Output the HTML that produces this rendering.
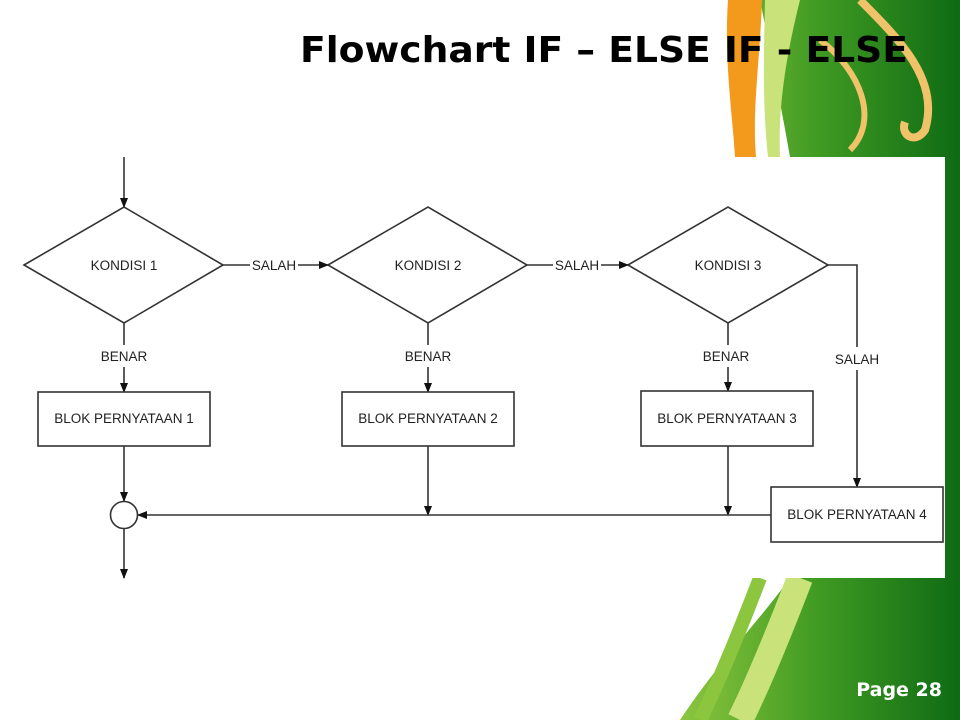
<!DOCTYPE html>
<html><head><meta charset="utf-8"><style>
html,body{margin:0;padding:0;background:#fff}
svg{display:block}
</style></head><body>
<svg width="960" height="720" viewBox="0 0 960 720" xmlns="http://www.w3.org/2000/svg">
<defs>
<linearGradient id="g" x1="0" y1="0" x2="1" y2="0">
<stop offset="0" stop-color="#8cc63f"/><stop offset="0.5" stop-color="#3f9a22"/><stop offset="1" stop-color="#0f6b14"/>
</linearGradient>
<marker id="a" markerWidth="10" markerHeight="10" refX="9" refY="5" orient="auto" markerUnits="userSpaceOnUse">
<path d="M0,1 L10,5 L0,9 Z" fill="#111"/></marker>
</defs>
<rect width="960" height="720" fill="#fff"/>
<path d="M760,0 L960,0 L960,720 L680,720 C720,660 760,620 790,578 L940,578 L945,157 L790,157 C780,100 770,50 760,0 Z" fill="url(#g)"/>
<path d="M728,0 L762,0 C760,60 752,110 756,157 L735,157 C732,110 724,60 728,0 Z" fill="#f39a1c"/>
<path d="M765,0 L800,0 C785,60 778,110 780,157 L768,157 C762,100 764,50 765,0 Z" fill="#c9e27a"/>
<path d="M860,0 C900,40 940,80 925,130 C915,145 900,135 905,122" fill="none" stroke="#f0c36a" stroke-width="8"/>
<path d="M820,40 C860,70 880,120 850,150" fill="none" stroke="#f0c36a" stroke-width="6"/>
<path d="M800,578 C780,630 760,680 740,720" fill="none" stroke="#c9e27a" stroke-width="26"/>
<path d="M760,578 C740,630 720,680 700,720" fill="none" stroke="#8cc63f" stroke-width="14"/>
<rect x="0" y="157" width="945" height="421" fill="#fff"/>
<text x="300" y="62" textLength="608" lengthAdjust="spacingAndGlyphs" font-family="DejaVu Sans, sans-serif" font-weight="bold" font-size="36" fill="#000">Flowchart IF – ELSE IF - ELSE</text>
<text x="942" y="696" text-anchor="end" font-family="DejaVu Sans, sans-serif" font-weight="bold" font-size="19" fill="#fff">Page 28</text>
<g stroke="#333" stroke-width="1.6" fill="none">
<line x1="124" y1="157" x2="124" y2="207" marker-end="url(#a)"/>
<polygon points="24,265 124,207 223,265 124,323" fill="#fff"/>
<polygon points="328,265 428,207 527,265 428,323" fill="#fff"/>
<polygon points="628,265 728,207 828,265 728,323" fill="#fff"/>
<line x1="223" y1="265" x2="250" y2="265"/>
<line x1="298" y1="265" x2="328" y2="265" marker-end="url(#a)"/>
<line x1="527" y1="265" x2="553" y2="265"/>
<line x1="601" y1="265" x2="628" y2="265" marker-end="url(#a)"/>
<polyline points="828,265 857,265 857,347"/>
<line x1="857" y1="370" x2="857" y2="487" marker-end="url(#a)"/>
<line x1="124" y1="323" x2="124" y2="345"/><line x1="124" y1="367" x2="124" y2="392" marker-end="url(#a)"/>
<line x1="428" y1="323" x2="428" y2="345"/><line x1="428" y1="367" x2="428" y2="392" marker-end="url(#a)"/>
<line x1="728" y1="323" x2="728" y2="345"/><line x1="728" y1="367" x2="728" y2="391" marker-end="url(#a)"/>
<rect x="38" y="392" width="172" height="54" fill="#fff"/>
<rect x="342" y="392" width="172" height="54" fill="#fff"/>
<rect x="641" y="391" width="172" height="55" fill="#fff"/>
<rect x="771" y="487" width="172" height="55" fill="#fff"/>
<line x1="124" y1="446" x2="124" y2="501" marker-end="url(#a)"/>
<line x1="428" y1="446" x2="428" y2="515" marker-end="url(#a)"/>
<line x1="728" y1="446" x2="728" y2="515" marker-end="url(#a)"/>
<line x1="771" y1="515" x2="138" y2="515" marker-end="url(#a)"/>
<circle cx="124" cy="515" r="13.5" fill="#fff"/>
<line x1="124" y1="529" x2="124" y2="578" marker-end="url(#a)"/>
</g>
<g font-family="Liberation Sans, sans-serif" font-size="13.5" fill="#222" text-anchor="middle">
<text x="124" y="270">KONDISI 1</text>
<text x="428" y="270">KONDISI 2</text>
<text x="728" y="270">KONDISI 3</text>
<text x="274" y="270">SALAH</text>
<text x="577" y="270">SALAH</text>
<text x="857" y="364">SALAH</text>
<text x="124" y="361">BENAR</text>
<text x="428" y="361">BENAR</text>
<text x="726" y="361">BENAR</text>
<text x="124" y="423">BLOK PERNYATAAN 1</text>
<text x="428" y="423">BLOK PERNYATAAN 2</text>
<text x="727" y="423">BLOK PERNYATAAN 3</text>
<text x="857" y="519">BLOK PERNYATAAN 4</text>
</g>
</svg>
</body></html>
